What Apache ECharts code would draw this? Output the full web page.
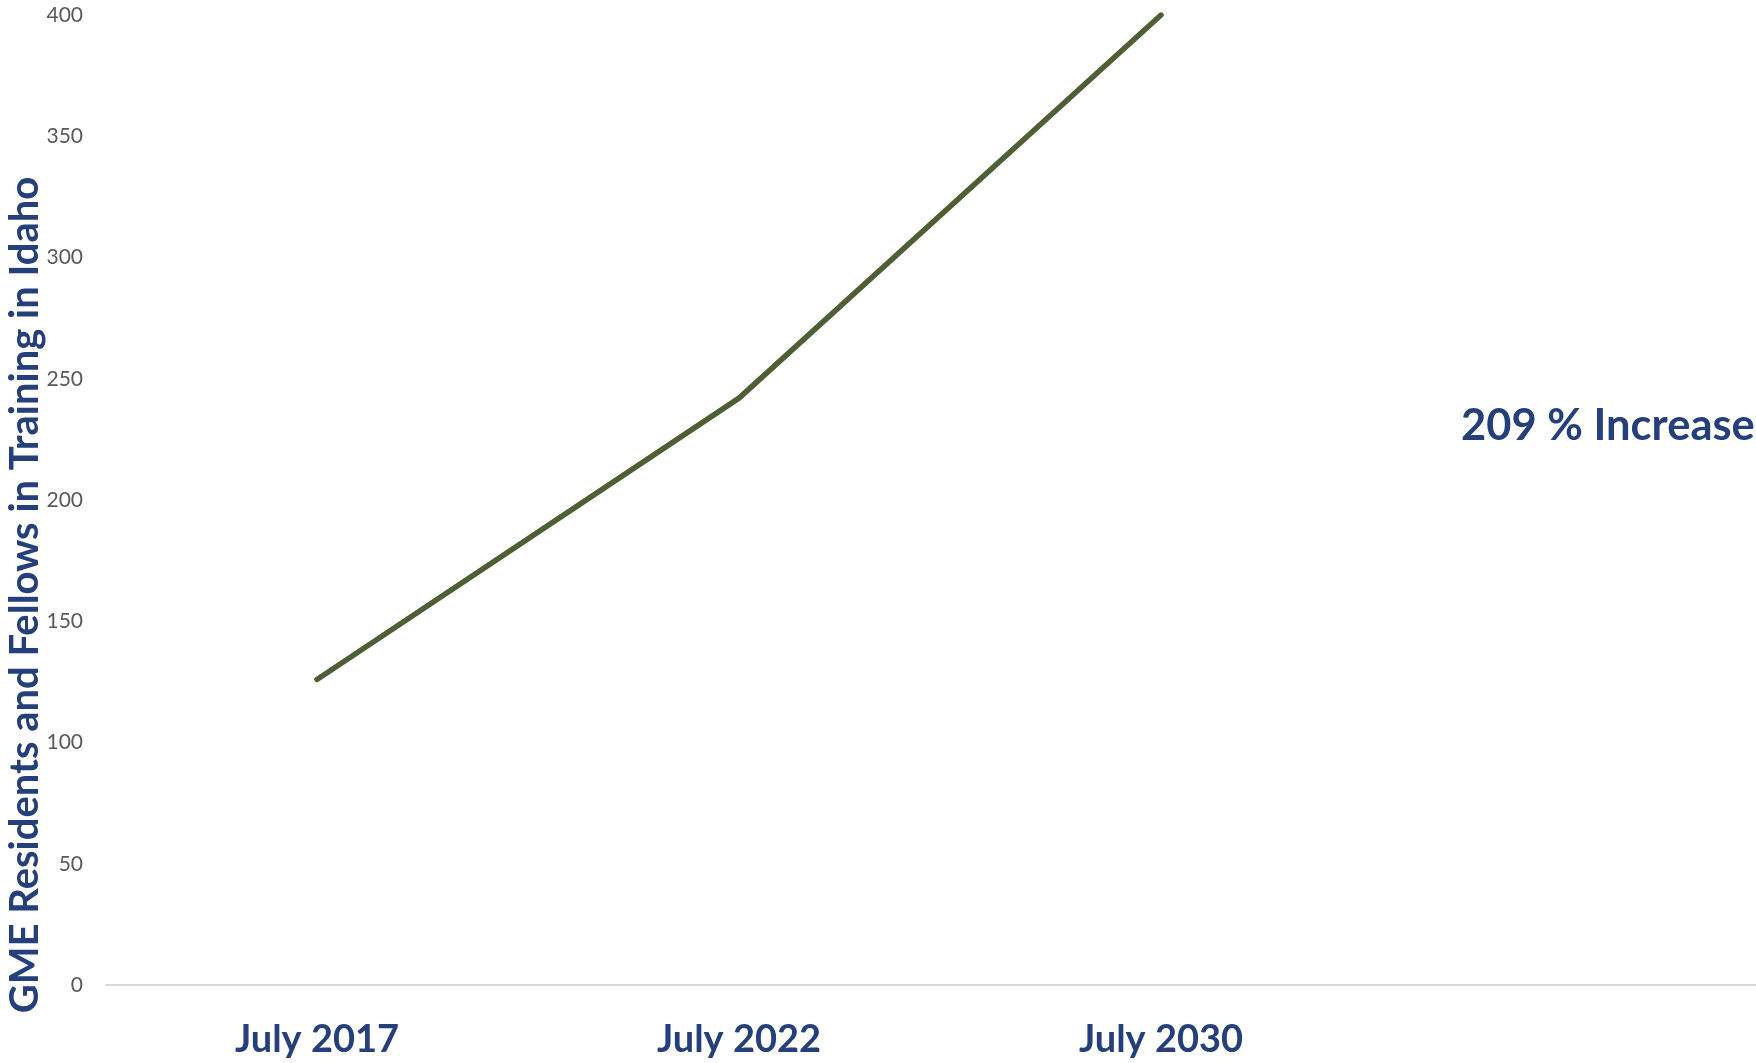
<!DOCTYPE html>
<html>
<head>
<meta charset="utf-8">
<script src="https://cdn.jsdelivr.net/npm/echarts@6/dist/echarts.min.js"></script>
<style>
  html, body { margin: 0; padding: 0; background: #ffffff; }
  #chart { width: 1756px; height: 1063px; }
</style>
</head>
<body>
<div id="chart"></div>
<script>
// Years on the horizontal axis (the last slot is left empty)
const categories = ['July 2017', 'July 2022', 'July 2030', ''];
// GME residents and fellows in training
const residents = [126, 242, 400, null];
// Value axis range
const yMin = 0;
const yMax = 400;
const yStep = 50;
const axisTitle = 'GME Residents and Fellows in Training in Idaho';
const noteText = '209 % Increase';

const navy = '#253F7A';
const chart = echarts.init(document.getElementById('chart'), null, { renderer: 'canvas' });

chart.setOption({
  animation: false,
  backgroundColor: '#ffffff',
  grid: {
    left: 106,
    top: 15,
    bottom: 78,
    right: -38,
    outerBoundsMode: 'none',
    containLabel: false
  },
  xAxis: {
    type: 'category',
    data: categories,
    boundaryGap: true,
    axisLine: { show: true, lineStyle: { color: '#D9D9D9', width: 2 } },
    axisTick: { show: false },
    axisLabel: {
      color: navy,
      fontFamily: 'Lato',
      fontWeight: 'bold',
      fontSize: 38,
      margin: 36
    },
    splitLine: { show: false }
  },
  yAxis: {
    type: 'value',
    min: yMin,
    max: yMax,
    interval: yStep,
    axisLine: { show: false },
    axisTick: { show: false },
    splitLine: { show: false },
    axisLabel: {
      color: '#595959',
      fontFamily: 'Lato',
      fontSize: 21,
      margin: 23
    }
  },
  series: [{
    type: 'line',
    data: residents,
    symbol: 'none',
    smooth: false,
    clip: true,
    lineStyle: { color: '#4E5F35', width: 5.5, cap: 'round', join: 'round' }
  }],
  graphic: [
    {
      type: 'text',
      x: 25,
      y: 595,
      rotation: Math.PI / 2,
      style: {
        text: axisTitle,
        fill: navy,
        font: 'bold 40px Lato',
        align: 'center',
        verticalAlign: 'middle'
      }
    },
    {
      type: 'text',
      x: 1461,
      y: 426,
      style: {
        text: noteText,
        fill: navy,
        font: 'bold 43.5px Lato',
        align: 'left',
        verticalAlign: 'middle'
      }
    }
  ]
});
</script>
</body>
</html>
